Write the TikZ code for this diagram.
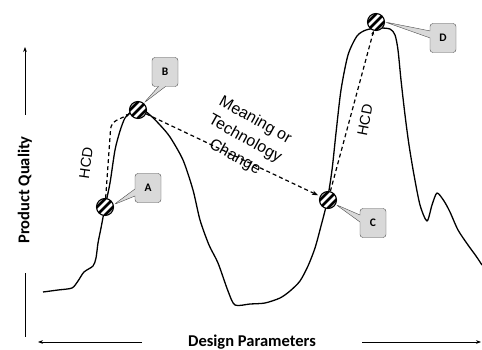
\documentclass[tikz,border=0pt]{standalone}
\usepackage{fontspec}
\newfontfamily\carlito{Carlito}
\newfontfamily\arial{Liberation Sans}
\usetikzlibrary{arrows.meta,shapes.callouts}

\begin{document}
\begin{tikzpicture}[x=1pt, y=-1pt,
    curve/.style={line width=1.3pt, line join=round},
    axis/.style={line width=0.9pt},
    hcdline/.style={line width=1.2pt, dash pattern=on 4pt off 3pt},
    hatch/.style={circle, draw, line width=1.1pt, fill=white, minimum size=17pt, inner sep=0pt,
        path picture={
            \foreach \s in {-8,0,8}
                \draw[line width=2.7pt] ([xshift=\s pt]path picture bounding box.south west) -- ([xshift=\s pt]path picture bounding box.north east);
        }},
    tag/.style={rectangle callout, draw=gray!60!black, fill=gray!30, rounded corners=3pt,
        minimum width=26pt, minimum height=29pt, inner sep=0pt, callout pointer width=7pt,
        font=\carlito\bfseries\fontsize{11.5}{12}\selectfont},
    axlabel/.style={font=\carlito\bfseries\fontsize{16.5}{18}\selectfont},
    note/.style={font=\arial\fontsize{14.5}{19}\selectfont, align=center}]
        \useasboundingbox (0,0) rectangle (482,350);

        % Quality landscape
        \draw[curve] plot[smooth, tension=0.45] coordinates {
            (43,292) (58,290) (72,288) (78,281) (84,272) (93,266) (96,258) (98,243)
            (101,228) (105,207) (110,183) (115,150) (120,131) (125,118) (132,111) (139,107)
            (150,115) (160,125) (170,137) (183,160) (193,190) (200,220) (209,245)
            (218,263) (228,291) (235,305) (250,304) (265,303) (280,298) (290,291)
            (300,281) (308,266) (315,248) (321,226) (327,202) (332,170) (336,133)
            (341,90) (348,55) (357,36) (366,30) (378,28) (390,29) (395,35) (398,50)
            (401,80) (405,115) (409,145) (414,175) (420,205) (427,221) (432,205)
            (437,193) (444,201) (450,212) (458,230) (468,245) (476,256) (482,265)};

        % Marked designs
        \node[hatch] (pA) at (105,207) {};
        \node[hatch] (pB) at (138,110) {};
        \node[hatch] (pC) at (328,200) {};
        \node[hatch] (pD) at (376,22) {};

        % Callouts
        \node[tag, callout absolute pointer={(pA.15)}] (tA) at (148,188) {A};
        \node[tag, callout absolute pointer={(pB.50)}] (tB) at (165,72) {B};
        \node[tag, callout absolute pointer={(pC.-30)}] (tC) at (373,223) {C};
        \node[tag, callout absolute pointer={(pD.0)}] (tD) at (443,38) {D};

        % Moves between peaks
        \coordinate (bend) at (111,123);
        \draw[hcdline, rounded corners=6pt, -{Stealth[length=4pt]}] (pA) -- (bend) -- (pB);
        \draw[hcdline, -{Stealth[length=4pt]}] (pC) -- (pD);
        \draw[hcdline, -{Stealth[length=6pt]}, shorten >=2pt] (pB) -- (pC);
        \node[note, rotate=82] (hcdL) at (86,163) {HCD};
        \node[note, rotate=79] (hcdR) at (365,120) {HCD};
        \node[note, rotate=-29, font=\arial\fontsize{16}{21}\selectfont] (move) at (245,139) {Meaning or\\Technology\\Change};

        % Axes
        \node[axlabel, rotate=90] (ylab) at (25,190) {Product Quality};
        \node[axlabel] (xlab) at (252,342) {Design Parameters};
        \coordinate (ytop) at (25,47);
        \coordinate (ybot) at (25,337);
        \coordinate (xleft) at (38,342);
        \coordinate (xright) at (481,342);
        \draw[axis, -{Stealth[length=5pt]}, shorten <=18pt] (ylab.east) -- (ytop);
        \draw[axis, shorten <=26pt] (ylab.west) -- (ybot);
        \draw[axis, -{Stealth[length=5pt]}, shorten <=46pt] (xlab.center) ++(-64,0) coordinate (xl0) (xl0) -- (xleft);
        \draw[axis, -{Stealth[length=5pt]}, shorten <=46pt] (xlab.center) ++(64,0) coordinate (xr0) (xr0) -- (xright);
\end{tikzpicture}
\end{document}
